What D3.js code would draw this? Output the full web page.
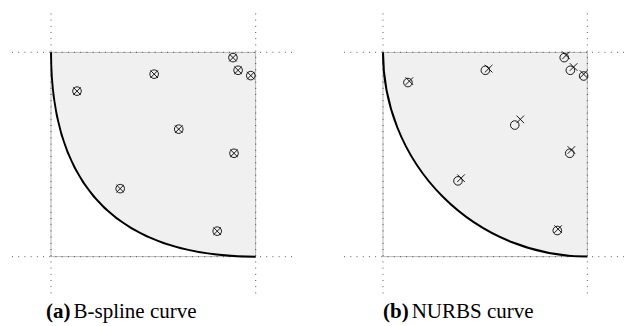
<!DOCTYPE html>
<html><head><meta charset="utf-8">
<script src="https://cdn.jsdelivr.net/npm/d3@7"></script>
<style>html,body{margin:0;padding:0;background:#fff;}svg{display:block;}</style>
</head><body>
<svg id="chart" width="624" height="326"></svg>
<script>
// ---- data ----
const panelIds = ["a", "b"];
const panelLabels = ["(a)", "(b)"];
const panelTitles = ["B-spline curve", "NURBS curve"];
// curve control points (unit square)
const curveCtrl = [[0, 1], [0, 0], [1, 0]];
const nurbsWeights = [1, Math.SQRT1_2, 1];
// grid lines / axis range
const gridVals = [0, 1];
const axisRange = [-0.19, 1.19];
// panel (a): circles and crosses coincide
const circlesA = [[0.889,0.974],[0.914,0.912],[0.976,0.886],[0.504,0.893],[0.127,0.810],[0.624,0.624],[0.894,0.506],[0.338,0.333],[0.812,0.125]];
const crossesA = [[0.889,0.974],[0.914,0.912],[0.976,0.886],[0.504,0.893],[0.127,0.810],[0.624,0.624],[0.894,0.506],[0.338,0.333],[0.812,0.125]];
// panel (b)
const circlesB = [[0.122,0.852],[0.501,0.912],[0.887,0.974],[0.917,0.912],[0.982,0.884],[0.645,0.644],[0.914,0.506],[0.367,0.371],[0.853,0.128]];
const crossesB = [[0.129,0.859],[0.517,0.920],[0.896,0.985],[0.933,0.928],[0.982,0.893],[0.672,0.672],[0.922,0.522],[0.382,0.384],[0.857,0.135]];

const panels = [
  {px: [51, 255.7], circles: circlesA, crosses: crossesA, rational: false, capX: 46},
  {px: [383, 587.3], circles: circlesB, crosses: crossesB, rational: true, capX: 383}
];
const pyRange = [256.7, 52.3];

const svg = d3.select("#chart");

panels.forEach((p, i) => {
  const x = d3.scaleLinear().domain([0, 1]).range(p.px);
  const y = d3.scaleLinear().domain([0, 1]).range(pyRange);
  const g = svg.append("g");

  function curvePath(closeRegion) {
    const path = d3.path();
    const [c0, c1, c2] = curveCtrl;
    path.moveTo(x(c0[0]), y(c0[1]));
    if (!p.rational) {
      path.quadraticCurveTo(x(c1[0]), y(c1[1]), x(c2[0]), y(c2[1]));
    } else {
      const cx = x(1), cy = y(1), r = x(1) - x(0);
      path.arc(cx, cy, r, Math.PI, Math.PI / 2, true);
    }
    if (closeRegion) {
      path.lineTo(x(1), y(1));
      path.closePath();
    }
    return path.toString();
  }

  g.append("path").attr("d", curvePath(true)).attr("fill", "#f0f0f0").attr("stroke", "none");

  g.append("rect")
    .attr("x", x(0)).attr("y", y(1))
    .attr("width", x(1) - x(0)).attr("height", y(0) - y(1))
    .attr("fill", "none").attr("stroke", "#a8a8a8").attr("stroke-width", 0.8);

  gridVals.forEach(v => {
    g.append("line")
      .attr("x1", x(v)).attr("x2", x(v))
      .attr("y1", y(axisRange[1])).attr("y2", y(axisRange[0]))
      .attr("stroke", "#333").attr("stroke-width", 0.9).attr("stroke-dasharray", "0.9,5.3");
    g.append("line")
      .attr("y1", y(v)).attr("y2", y(v))
      .attr("x1", x(axisRange[0])).attr("x2", x(axisRange[1]))
      .attr("stroke", "#333").attr("stroke-width", 0.9).attr("stroke-dasharray", "0.9,5.3");
  });

  g.append("path").attr("d", curvePath(false)).attr("fill", "none")
    .attr("stroke", "#000").attr("stroke-width", 2);

  g.selectAll("circle.m").data(p.circles).join("circle")
    .attr("class", "m")
    .attr("cx", d => x(d[0])).attr("cy", d => y(d[1])).attr("r", 4.3)
    .attr("fill", "none").attr("stroke", "#000").attr("stroke-width", 0.9);

  const s = 3.8;
  g.selectAll("path.x").data(p.crosses).join("path")
    .attr("class", "x")
    .attr("d", d => {
      const cx = x(d[0]), cy = y(d[1]);
      return `M${cx - s},${cy - s}L${cx + s},${cy + s}M${cx - s},${cy + s}L${cx + s},${cy - s}`;
    })
    .attr("fill", "none").attr("stroke", "#000").attr("stroke-width", 0.9);

  const t = svg.append("text")
    .attr("x", p.capX).attr("y", 318)
    .attr("font-family", "'Liberation Serif', 'DejaVu Serif', serif")
    .attr("font-size", 21).attr("fill", "#000");
  t.append("tspan").attr("font-weight", "bold").text(panelLabels[i]);
  t.append("tspan").attr("dx", 3).text(panelTitles[i]);
});
</script>
</body></html>
